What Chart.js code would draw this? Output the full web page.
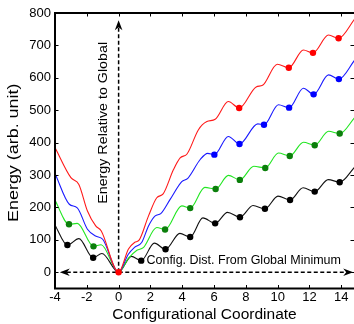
<!DOCTYPE html>
<html>
<head>
<meta charset="utf-8">
<script src="https://cdn.jsdelivr.net/npm/chart.js@4.4.1/dist/chart.umd.min.js"></script>
<style>
  html, body { margin: 0; padding: 0; background: #fff; }
</style>
</head>
<body>
<canvas id="chart" width="354" height="324"></canvas>
<script>
// axis ticks
const xTicks = [-4, -2, 0, 2, 4, 6, 8, 10, 12, 14];
const yTicks = [0, 100, 200, 300, 400, 500, 600, 700, 800];

// curves (extrema + shoulders)
const blackX = [-4, -3.22, -2.5, -1.6, -1.05, 0, 0.8, 1.42, 2.25, 2.95, 3.85, 4.5, 5.3, 6.07, 6.85, 7.63, 8.45, 9.2, 10.02, 10.78, 11.6, 12.33, 13.18, 13.9, 14.85];
const blackY = [145, 84, 104, 45, 58, 0, 49, 36, 90, 71, 120, 109, 168, 151, 185, 170, 206, 196, 235, 223, 261, 249, 286, 278, 325];
const blackMin = [-3.22, -1.6, 1.42, 2.95, 4.5, 6.07, 7.63, 9.2, 10.78, 12.33, 13.9];

const greenX = [-4, -3.12, -2.6, -1.58, -1.1, 0, 0.6, 1.15, 1.55, 2.4, 2.92, 3.97, 4.5, 5.42, 6.1, 6.9, 7.62, 8.5, 9.22, 10.05, 10.76, 11.62, 12.33, 13.2, 13.9, 14.85];
const greenY = [222, 148, 151, 80, 85, 0, 42, 68, 76, 138, 132, 205, 198, 262, 257, 299, 285, 327, 322, 368, 359, 401, 392, 435, 428, 478];
const greenMin = [-3.12, -1.58, 2.92, 4.5, 6.1, 7.62, 9.22, 10.76, 12.33, 13.9];

const blueX = [-4, -3.1, -2.6, -1.96, -1.45, -1.0, 0, 0.6, 1.0, 1.45, 1.88, 2.3, 2.65, 3.24, 3.97, 4.35, 5.13, 5.6, 6.02, 6.9, 7.6, 8.75, 9.14, 10.05, 10.72, 11.62, 12.26, 13.2, 13.85, 14.85];
const blueY = [305, 210, 199, 133, 112, 102, 0, 55, 77, 92, 143, 174, 181, 225, 280, 290, 348, 367, 363, 419, 396, 458, 455, 517, 508, 568, 549, 609, 596, 655];
const blueMin = [6.02, 7.6, 9.14, 10.72, 12.26, 13.85];

const redX = [-4, -3.0, -2.5, -1.96, -1.44, -1.1, 0, 0.62, 1.0, 1.3, 1.88, 2.4, 2.8, 3.45, 3.87, 4.3, 5.02, 5.55, 6.07, 6.9, 7.58, 8.65, 9.05, 9.98, 10.7, 11.62, 12.22, 13.2, 13.83, 14.85];
const redY = [385, 292, 271, 189, 143, 128, 0, 72, 92, 100, 174, 230, 242, 317, 353, 365, 440, 465, 472, 527, 507, 572, 577, 642, 631, 686, 677, 732, 722, 782];
const redMin = [0, 7.58, 10.7, 12.22, 13.83];

// annotations (data units)
const hArrowX = [-3.7, 14.75];
const vArrowY = [0, 778];
const hLabel = { x: 1.75, y: 36, text: 'Config. Dist. From Global Minimum' };
const vLabel = { x: -0.96, y: 461, text: 'Energy Relative to Global' };

function series(label, xs, ys, mins, line, dot) {
  return {
    label: label,
    data: xs.map((v, i) => ({ x: v, y: ys[i] })),
    borderColor: line,
    backgroundColor: dot,
    borderWidth: 1.1,
    cubicInterpolationMode: 'monotone',
    pointRadius: c => (c.raw && mins.includes(c.raw.x)) ? 3.2 : 0,
    pointBorderWidth: 0,
    pointBackgroundColor: dot,
    fill: false
  };
}

function head(ctx, tx, ty, ang) {
  ctx.save();
  ctx.translate(tx, ty);
  ctx.rotate(ang);
  ctx.beginPath();
  ctx.moveTo(0, 0);
  ctx.lineTo(-10, -3.8);
  ctx.lineTo(-7, 0);
  ctx.lineTo(-10, 3.8);
  ctx.closePath();
  ctx.fill();
  ctx.restore();
}

function vText(ctx, text, cx, cy, size, stretch) {
  ctx.save();
  ctx.translate(cx, cy);
  ctx.rotate(-Math.PI / 2);
  ctx.scale(stretch, 1);
  ctx.font = size + 'px "Liberation Sans", Arial, sans-serif';
  ctx.textAlign = 'center';
  ctx.textBaseline = 'middle';
  ctx.fillText(text, 0, 0);
  ctx.restore();
}

const decor = {
  id: 'decor',
  beforeDatasetsDraw(chart) {
    const { ctx, scales: { x, y } } = chart;
    ctx.save();
    ctx.strokeStyle = '#000';
    ctx.fillStyle = '#000';
    ctx.lineWidth = 1.5;
    ctx.setLineDash([4, 2.5]);
    const y0 = y.getPixelForValue(0);
    const xl = x.getPixelForValue(hArrowX[0]);
    const xr = x.getPixelForValue(hArrowX[1]);
    ctx.beginPath(); ctx.moveTo(xl + 7, y0); ctx.lineTo(xr - 7, y0); ctx.stroke();
    const x0 = x.getPixelForValue(0);
    const yb = y.getPixelForValue(vArrowY[0]);
    const yt = y.getPixelForValue(vArrowY[1]);
    ctx.beginPath(); ctx.moveTo(x0, yb); ctx.lineTo(x0, yt + 7); ctx.stroke();
    ctx.setLineDash([]);
    head(ctx, xl, y0, Math.PI);
    head(ctx, xr, y0, 0);
    head(ctx, x0, yt, -Math.PI / 2);

    ctx.font = '12.5px "Liberation Sans", Arial, sans-serif';
    ctx.textAlign = 'left';
    ctx.textBaseline = 'middle';
    ctx.fillText(hLabel.text, x.getPixelForValue(hLabel.x), y.getPixelForValue(hLabel.y));
    vText(ctx, vLabel.text, x.getPixelForValue(vLabel.x), y.getPixelForValue(vLabel.y), 12, 1.19);
    ctx.restore();
  },
  afterDraw(chart) {
    const { ctx, chartArea: a, scales: { x, y } } = chart;
    ctx.save();
    ctx.strokeStyle = '#000';
    ctx.lineWidth = 1;
    ctx.beginPath();
    xTicks.forEach(v => {
      const p = Math.round(x.getPixelForValue(v)) + 0.5;
      ctx.moveTo(p, a.bottom); ctx.lineTo(p, a.bottom - 3.5);
      ctx.moveTo(p, a.top); ctx.lineTo(p, a.top + 3.5);
    });
    yTicks.forEach(v => {
      const p = Math.round(y.getPixelForValue(v)) + 0.5;
      ctx.moveTo(a.left, p); ctx.lineTo(a.left + 3.5, p);
      ctx.moveTo(a.right, p); ctx.lineTo(a.right - 3.5, p);
    });
    ctx.stroke();
    ctx.lineWidth = 2;
    ctx.beginPath();
    ctx.moveTo(a.right + 2, a.top);
    ctx.lineTo(a.left, a.top);
    ctx.lineTo(a.left, a.bottom);
    ctx.lineTo(a.right + 2, a.bottom);
    ctx.stroke();
    ctx.fillStyle = '#000';
    vText(ctx, 'Energy (arb. unit)', 14, (a.top + a.bottom) / 2 + 2, 14, 1.28);
    ctx.restore();
  }
};

new Chart(document.getElementById('chart'), {
  type: 'line',
  data: {
    datasets: [
      series('red', redX, redY, redMin, '#ff1a1a', '#ff0000'),
      series('blue', blueX, blueY, blueMin, '#1a1aff', '#0000ff'),
      series('green', greenX, greenY, greenMin, '#22e622', '#0b7f0b'),
      series('black', blackX, blackY, blackMin, '#111111', '#000000')
    ]
  },
  options: {
    responsive: false,
    devicePixelRatio: 1,
    animation: false,
    layout: { padding: { top: 13, right: 0, left: 0, bottom: 0 } },
    plugins: { legend: { display: false }, tooltip: { enabled: false } },
    scales: {
      x: {
        type: 'linear',
        min: -4,
        max: 14.8,
        grid: { display: false, drawTicks: false },
        border: { display: false },
        afterBuildTicks: s => { s.ticks = xTicks.map(v => ({ value: v })); },
        afterFit: s => { s.height = 35.5; },
        ticks: { color: '#000', padding: 1, maxRotation: 0, font: { family: 'Liberation Sans', size: 13 } },
        title: {
          display: true,
          text: 'Configurational Coordinate',
          color: '#000',
          padding: { top: 0, bottom: 0 },
          font: { family: 'Liberation Sans', size: 15.5 }
        }
      },
      y: {
        min: -50,
        max: 800,
        grid: { display: false, drawTicks: false },
        border: { display: false },
        afterBuildTicks: s => { s.ticks = yTicks.map(v => ({ value: v })); },
        afterFit: s => { s.width = 55; },
        ticks: { color: '#000', padding: 4, font: { family: 'Liberation Sans', size: 13 } }
      }
    }
  },
  plugins: [decor]
});
</script>
</body>
</html>
